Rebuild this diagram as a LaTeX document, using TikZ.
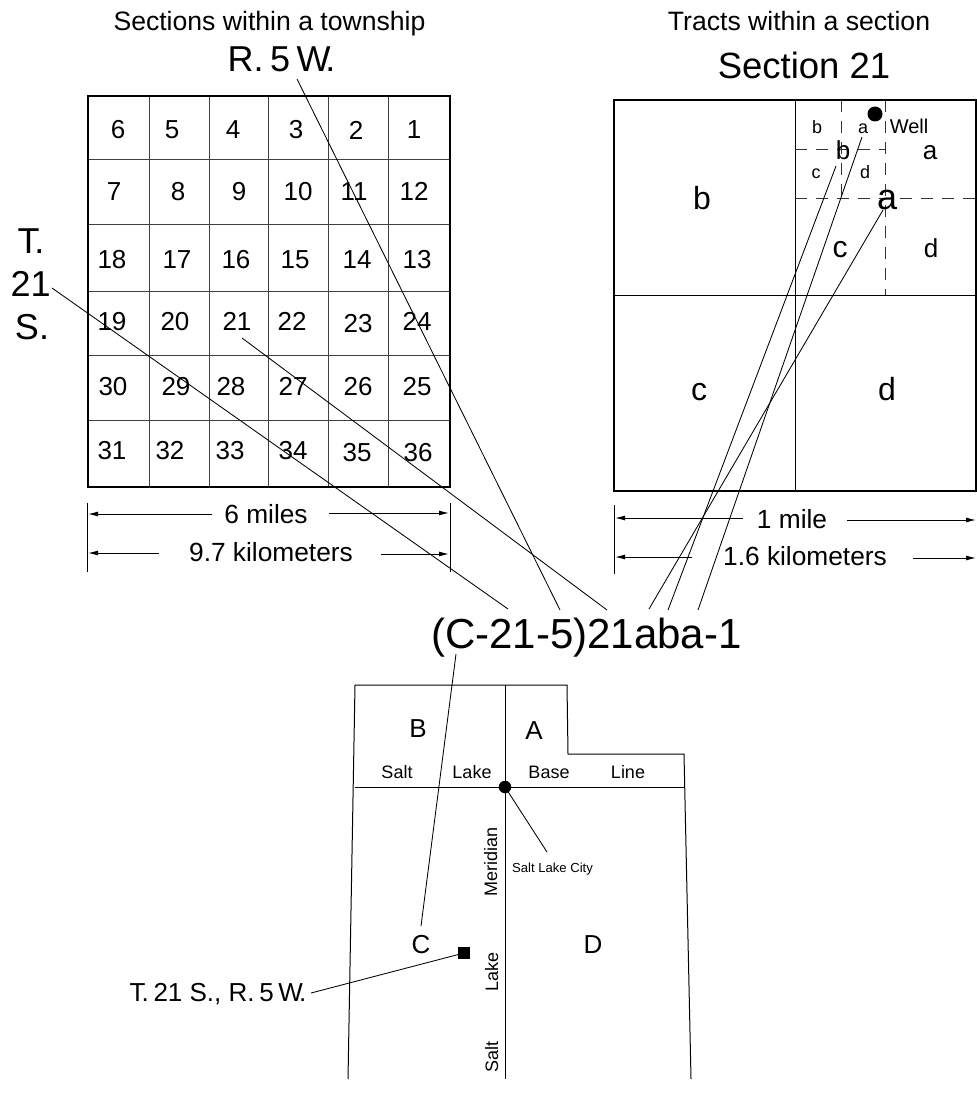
\documentclass[tikz,border=0pt]{standalone}
\usepackage{fontspec}
\setmainfont{Liberation Sans}
\usetikzlibrary{arrows.meta}
\newcommand{\nsp}{\kern.18em }
\newcommand{\tkn}{\kern-.15em }
\tikzset{
  x=1pt,y=-1pt,
  lab/.style={inner sep=0pt,anchor=base,font=\fontsize{#1}{#1}\selectfont},
  lab/.default=26,
  thin line/.style={line width=1pt,black},
  frame line/.style={line width=2pt,black},
  cell line/.style={line width=1pt,black!75},
  dash line/.style={line width=1pt,black!80,dash pattern=on 12pt off 9pt},
  leader/.style={line width=0.85pt,black},
  dim/.style={line width=1pt,-{Latex[length=10pt,width=5pt]}},
}
\begin{document}
\begin{tikzpicture}
\useasboundingbox (0,0) rectangle (976,1107);
% titles
\node[lab=26.6] (t1) at (269.5,31) {Sections within a township};
\node[lab=26.6] (t2) at (799,31) {Tracts within a section};
\node[lab=36] (rw) at (281.5,72) {R.\nsp 5\nsp W\tkn.};
\node[lab=36.5] (s21) at (804,79) {Section 21};
\node[lab=36] (tt) at (31,254) {T\tkn.};
\node[lab=36] (t21) at (30.7,296.7) {21};
\node[lab=36] (ts) at (32,339) {S.};
% township grid
\foreach \x in {149,209,268,328,388} \draw[cell line] (\x,96) -- (\x,487);
\foreach \y in {160,225,291,355,420} \draw[cell line] (88,\y) -- (450,\y);
\node[draw,frame line,minimum width=362pt,minimum height=391pt,inner sep=0pt] (grid) at (269,291.5) {};
\foreach \n/\x/\y in {6/118/138.7,5/172/138.7,4/233/138.7,3/296/138.7,2/356/139.5,1/414/138.7,
 7/114/200.7,8/178/200.7,9/239/200.7,10/298/200.7,11/354/200.7,12/414/200.7,
 18/112/268.7,17/177/268.7,16/236/268.7,15/295/268.7,14/357/268.7,13/417/268.7,
 19/112/330,20/175/330,21/237/330,22/292/330,23/358/332,24/417/330,
 30/113/395,29/176/395,28/231/395,27/293/395,26/358/395,25/417/395,
 31/112/459,32/170/459,33/230/459,34/293/459,35/357/461,36/418/461}
 \node[lab=26] (sec\n) at (\x,\y) {\n};
% section square
\draw[thin line] (795,100) -- (795,491);
\draw[thin line] (614,295) -- (976,295);
\draw[dash line] (795,199) -- (976,199);
\draw[dash line] (885,100) -- (885,295);
\draw[dash line] (841,100) -- (841,199);
\draw[dash line] (795,150) -- (885,150);
\node[draw,frame line,minimum width=362pt,minimum height=391pt,inner sep=0pt] (sect) at (795,295.5) {};
\node[lab=32] (qb) at (702,210) {b};
\node[lab=32] (qcc) at (699,400) {c};
\node[lab=32] (qdd) at (887,400) {d};
\node[lab=36] (qa1) at (887,210) {a};
\node[lab=26] (qa2) at (930,160) {a};
\node[lab=30] (qc2) at (840,257) {c};
\node[lab=26] (qd2) at (931,257) {d};
\node[lab=26] (qb2) at (843,160) {b};
\node[lab=18] (rb) at (817,134) {b};
\node[lab=18] (ra) at (863,134) {a};
\node[lab=18] (rc) at (816,179) {c};
\node[lab=18] (rd) at (865,179) {d};
\node[lab=20] (well) at (909,134) {Well};
\node[circle,fill=black,minimum size=15pt,inner sep=0pt] (wd) at (875,114) {};
% code
\node[lab=42] (code) at (586.5,648) {(C-21-5)21aba-1};
% dims
\coordinate (d1a) at (87,503); \coordinate (d1b) at (87,572);
\coordinate (d2a) at (450,503); \coordinate (d2b) at (450,572);
\draw[thin line] (d1a) -- (d1b);
\draw[thin line] (d2a) -- (d2b);
\node[lab=26.3] (m6) at (266,523) {6 miles};
\node[lab=26.3] (km) at (271,561) {9.7 kilometers};
\coordinate (a1) at (88,514); \coordinate (a2) at (449,513);
\coordinate (a3) at (88,553); \coordinate (a4) at (449,554);
\coordinate (a1e) at (212,514); \coordinate (a2e) at (329,513);
\coordinate (a3e) at (159,553); \coordinate (a4e) at (381,554);
\draw[dim] (a1e) -- (a1);
\draw[dim] (a2e) -- (a2);
\draw[dim] (a3e) -- (a3);
\draw[dim] (a4e) -- (a4);
\coordinate (e1a) at (614,505); \coordinate (e1b) at (614,574);
\draw[thin line] (e1a) -- (e1b);
\node[lab=26.3] (m1) at (792,528) {1 mile};
\node[lab=26.3] (km2) at (805,565) {1.6 kilometers};
\coordinate (b1) at (615,518); \coordinate (b2) at (976,520);
\coordinate (b3) at (615,557); \coordinate (b4) at (976,558);
\coordinate (b1e) at (743,518); \coordinate (b2e) at (847,520);
\coordinate (b3e) at (692,557); \coordinate (b4e) at (913,558);
\draw[dim] (b1e) -- (b1);
\draw[dim] (b2e) -- (b2);
\draw[dim] (b3e) -- (b3);
\draw[dim] (b4e) -- (b4);
% leaders
\coordinate (l1a) at (297,79); \coordinate (l1b) at (560,610);
\coordinate (l2a) at (52,288); \coordinate (l2b) at (508,609);
\coordinate (l3a) at (242,338); \coordinate (l3b) at (607,610);
\coordinate (l4a) at (836,166); \coordinate (l4b) at (668,610);
\coordinate (l5a) at (862,137); \coordinate (l5b) at (698,610);
\coordinate (l6a) at (883,210); \coordinate (l6b) at (649,609);
\coordinate (l7a) at (456,654); \coordinate (l7b) at (421,926);
\foreach \k in {1,...,7} \draw[leader] (l\k a) -- (l\k b);
% map
\coordinate (p1) at (348,1079); \coordinate (p2) at (355,685);
\coordinate (p3) at (567,685); \coordinate (p4) at (568,754);
\coordinate (p5) at (684,754); \coordinate (p6) at (691,1079);
\draw[thin line] (p1) -- (p2) -- (p3) -- (p4) -- (p5) -- (p6);
\coordinate (bl1) at (355,787); \coordinate (bl2) at (685,787);
\coordinate (mr1) at (505,685); \coordinate (mr2) at (505,1079);
\draw[thin line] (bl1) -- (bl2);
\draw[thin line] (mr1) -- (mr2);
\node[circle,fill=black,minimum size=12.5pt,inner sep=0pt] (slc) at (505,787) {};
\coordinate (slce) at (547,852);
\draw[leader] (slc.center) -- (slce);
\node[lab=13.1] (slct) at (552.5,872) {Salt Lake City};
\node[lab=26] (mb) at (418,737) {B};
\node[lab=26] (ma) at (534,739) {A};
\node[lab=26] (mc) at (421,953) {C};
\node[lab=26] (md) at (593,953) {D};
\node[lab=18] (bs) at (397,778) {Salt};
\node[lab=18] (bk) at (472,778) {Lake};
\node[lab=18] (bb) at (549,778) {Base};
\node[lab=18] (bn) at (628,778) {Line};
\node[lab=18,rotate=90] (ms1) at (497,862) {Meridian};
\node[lab=18,rotate=90] (ms2) at (498,972) {Lake};
\node[lab=18,rotate=90] (ms3) at (498,1057) {Salt};
\node[fill=black,minimum size=12pt,inner sep=0pt] (sq) at (464,953) {};
\node[lab=26] (tl) at (218,1001) {T\tkn.\nsp 21 S., R.\nsp 5\nsp W\tkn.};
\coordinate (tle) at (311,993);
\draw[leader] (tle) -- (sq.center);
\end{tikzpicture}
\end{document}
